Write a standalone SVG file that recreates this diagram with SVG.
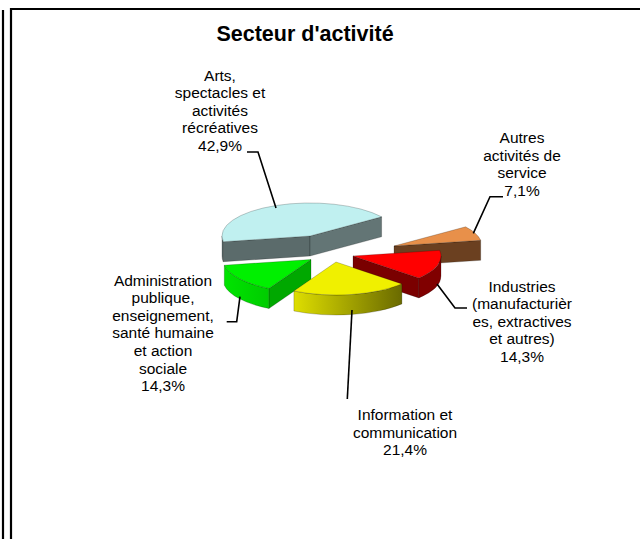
<svg xmlns="http://www.w3.org/2000/svg" width="640" height="539" viewBox="0 0 640 539">
<style>
text{font-family:"Liberation Sans",Arial,sans-serif;fill:#000}
.lbl{font-size:15.5px;text-anchor:middle}
.title{font-size:21.5px;font-weight:bold;text-anchor:middle}
.edge{stroke:#000;stroke-opacity:0.3;stroke-width:0.7;stroke-linejoin:round}
.lead{fill:none;stroke:#000;stroke-width:1.6}
.frame{fill:none;stroke:#000;stroke-width:2.2}
</style>
<defs>
<linearGradient id="ySide" x1="0" y1="0" x2="1" y2="0">
<stop offset="0" stop-color="#dede00"/>
<stop offset="1" stop-color="#6a6a00"/>
</linearGradient>
<linearGradient id="gSide" x1="0" y1="0" x2="1" y2="0">
<stop offset="0" stop-color="#00e400"/>
<stop offset="1" stop-color="#00cc00"/>
</linearGradient>
</defs>
<rect width="640" height="539" fill="#fff"/>
<path class="frame" d="M3,10 V539"/>
<path class="frame" d="M11,539 V9 H640"/>
<text class="title" x="305" y="41">Secteur d'activité</text>

<g id="arts">
<path class="edge" fill="#5b6b6b" d="M310,236 L223.3,241.7 L223.3,261.7 L310,256 Z"/>
<path class="edge" fill="#637575" d="M310,236 L381.6,216.8 L381.6,236.8 L310,256 Z"/>
<path class="edge" fill="#5b6b6b" d="M223.3,241.7 A88,33 0 0 1 222,236 L222,256 A88,33 0 0 0 223.3,261.7 Z"/>
<path class="edge" fill="#c0f0f0" d="M310,236 L223.3,241.7 A88,33 0 0 1 381.6,216.8 Z"/>
<text class="lbl"><tspan x="220" y="80.5">Arts,</tspan><tspan x="220" y="98">spectacles et</tspan><tspan x="220" y="115.5">activités</tspan><tspan x="220" y="133">récréatives</tspan><tspan x="220" y="150.5">42,9%</tspan></text>
</g>

<g id="autres">
<path class="edge" fill="#6b4020" d="M394,246 L480.7,240.3 L480.7,260.3 L394,266 Z"/>
<path class="edge" fill="#e8904a" d="M394,246 L465.6,226.8 A88,33 0 0 1 480.7,240.3 Z"/>
<text class="lbl"><tspan x="522" y="143">Autres</tspan><tspan x="522" y="160.6">activités de</tspan><tspan x="522" y="178.2">service</tspan><tspan x="522" y="195.8">7,1%</tspan></text>
</g>

<g id="industries">
<path class="edge" fill="#7a0000" d="M353,256 L418.9,277.9 L418.9,297.9 L353,276 Z"/>
<path class="edge" fill="#800000" d="M441,256 A88,33 0 0 1 418.9,277.9 L418.9,297.9 A88,33 0 0 0 441,276 Z"/>
<path class="edge" fill="#ff0000" d="M353,256 L439.7,250.3 A88,33 0 0 1 418.9,277.9 Z"/>
<text class="lbl"><tspan x="522" y="291.5">Industries</tspan><tspan x="522" y="309">(manufacturièr</tspan><tspan x="522" y="326.5">es, extractives</tspan><tspan x="522" y="344">et autres)</tspan><tspan x="522" y="361.5">14,3%</tspan></text>
</g>

<g id="administration">
<path class="edge" fill="#00a800" d="M311,259.5 L268.9,288.5 L268.9,308.5 L311,279.5 Z"/>
<path class="edge" fill="url(#gSide)" d="M268.9,288.5 A88,33 0 0 1 224.3,265.2 L224.3,285.2 A88,33 0 0 0 268.9,308.5 Z"/>
<path class="edge" fill="#00f000" d="M311,259.5 L268.9,288.5 A88,33 0 0 1 224.3,265.2 Z"/>
<text class="lbl"><tspan x="163" y="285.5">Administration</tspan><tspan x="163" y="303.1">publique,</tspan><tspan x="163" y="320.7">enseignement,</tspan><tspan x="163" y="338.3">santé humaine</tspan><tspan x="163" y="355.9">et action</tspan><tspan x="163" y="373.5">sociale</tspan><tspan x="163" y="391.1">14,3%</tspan></text>
</g>

<g id="information">
<path class="edge" fill="url(#ySide)" d="M401.9,283.9 A88,33 0 0 1 293.9,291 L293.9,311 A88,33 0 0 0 401.9,303.9 Z"/>
<path class="edge" fill="#f0f000" d="M336,262 L401.9,283.9 A88,33 0 0 1 293.9,291 Z"/>
<text class="lbl"><tspan x="405" y="420">Information et</tspan><tspan x="405" y="437.5">communication</tspan><tspan x="405" y="455">21,4%</tspan></text>
</g>

<g id="connectors">
<polyline class="lead" points="247,152 258,152 276,208"/>
<polyline class="lead" points="503,196.7 490,196.7 473.3,233.3"/>
<polyline class="lead" points="437,284 455,308 467,308"/>
<polyline class="lead" points="240,296.7 236.7,321.7 226.7,321.7"/>
<polyline class="lead" points="352,310 347.3,399"/>
</g>
</svg>
